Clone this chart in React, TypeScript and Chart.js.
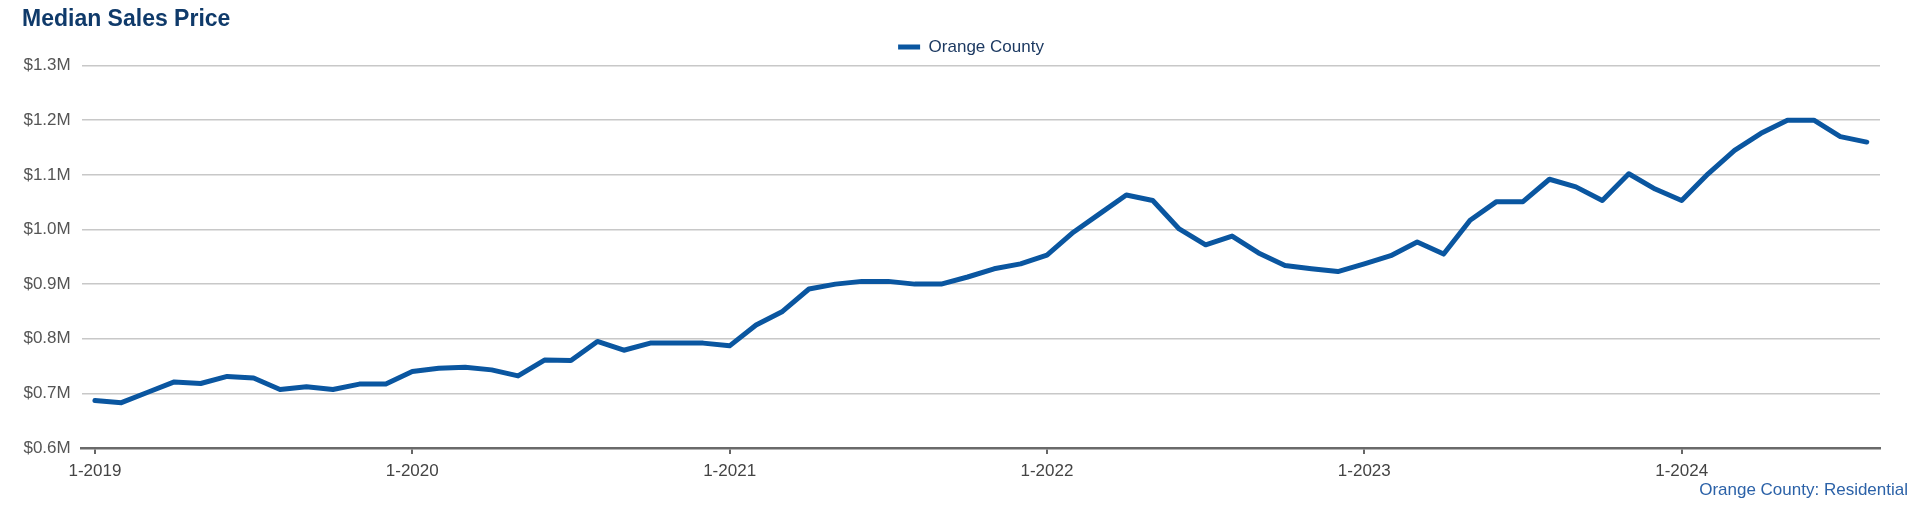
import React, { useEffect, useRef } from "react";
import { Chart, registerables } from "chart.js";

Chart.register(...registerables);

const monthLabels: string[] = [
  "1-2019", "2-2019", "3-2019", "4-2019", "5-2019", "6-2019", "7-2019", "8-2019", "9-2019", "10-2019", "11-2019", "12-2019",
  "1-2020", "2-2020", "3-2020", "4-2020", "5-2020", "6-2020", "7-2020", "8-2020", "9-2020", "10-2020", "11-2020", "12-2020",
  "1-2021", "2-2021", "3-2021", "4-2021", "5-2021", "6-2021", "7-2021", "8-2021", "9-2021", "10-2021", "11-2021", "12-2021",
  "1-2022", "2-2022", "3-2022", "4-2022", "5-2022", "6-2022", "7-2022", "8-2022", "9-2022", "10-2022", "11-2022", "12-2022",
  "1-2023", "2-2023", "3-2023", "4-2023", "5-2023", "6-2023", "7-2023", "8-2023", "9-2023", "10-2023", "11-2023", "12-2023",
  "1-2024", "2-2024", "3-2024", "4-2024", "5-2024", "6-2024", "7-2024", "8-2024",
];

const orangeCountyMedian: number[] = [
  687000, 683000, 702000, 721000, 718000, 731000, 728000, 707000, 712000, 707000, 717000, 717000,
  740000, 746000, 748000, 743000, 732000, 761000, 760000, 795000, 779000, 792000, 792000, 792000,
  787000, 825000, 850000, 891000, 900000, 905000, 905000, 900000, 900000, 913000, 928000, 937000,
  953000, 995000, 1029000, 1063000, 1053000, 1001000, 972000, 988000, 957000, 934000, 928000, 923000,
  937000, 952000, 977000, 955000, 1017000, 1051000, 1051000, 1092000, 1078000, 1053000, 1102000, 1074000,
  1053000, 1102000, 1145000, 1176000, 1200000, 1200000, 1170000, 1160000,
];

const seriesName = "Orange County";
const chartTitle = "Median Sales Price";
const captionText = "Orange County: Residential";
const yMin = 600000;
const yMax = 1300000;
const yStep = 100000;

const FONT = "'Liberation Sans', Arial, Helvetica, sans-serif";
const LINE_COLOR = "#0a56a0";

const captionPlugin = {
  id: "captionPlugin",
  afterDraw(chart: any) {
    const ctx = chart.ctx;
    ctx.save();
    ctx.font = `17px ${FONT}`;
    ctx.fillStyle = "#2c62a8";
    ctx.textAlign = "right";
    ctx.textBaseline = "middle";
    ctx.fillText(captionText, 1908, 490);
    ctx.restore();
  },
};

export default function App() {
  const canvasRef = useRef<HTMLCanvasElement | null>(null);

  useEffect(() => {
    if (!canvasRef.current) return;
    Chart.defaults.font.family = FONT;
    const chart = new Chart(canvasRef.current, {
      type: "line",
      data: {
        labels: monthLabels,
        datasets: [
          {
            label: seriesName,
            data: orangeCountyMedian,
            borderColor: LINE_COLOR,
            backgroundColor: LINE_COLOR,
            borderWidth: 5,
            pointRadius: 0,
            pointHoverRadius: 0,
            tension: 0,
            borderJoinStyle: "round",
            borderCapStyle: "round",
            fill: false,
          },
        ],
      },
      options: {
        animation: false,
        responsive: false,
        layout: { padding: { left: 22, right: 0, top: 0, bottom: 19.6 } },
        plugins: {
          title: {
            display: true,
            text: chartTitle,
            align: "start",
            color: "#0f3a6a",
            font: { size: 23, weight: "bold", family: FONT },
            padding: { top: 6, bottom: 0 },
          },
          legend: {
            display: true,
            position: "top",
            align: "center",
            labels: {
              color: "#1d3a62",
              font: { size: 17, family: FONT },
              boxWidth: 22,
              boxHeight: 5,
              padding: 5,
              generateLabels: () => [
                {
                  text: seriesName,
                  fillStyle: LINE_COLOR,
                  strokeStyle: LINE_COLOR,
                  lineWidth: 0,
                  hidden: false,
                  datasetIndex: 0,
                  fontColor: "#1d3a62",
                },
              ],
            },
          },
          tooltip: { enabled: false },
        },
        scales: {
          x: {
            type: "category",
            offset: true,
            grid: {
              display: true,
              drawOnChartArea: false,
              drawTicks: true,
              tickLength: 6,
              color: "#666666",
              lineWidth: 2,
              offset: false,
            },
            border: { display: true, color: "#6a6a6a", width: 2.5 },
            ticks: {
              autoSkip: false,
              maxRotation: 0,
              minRotation: 0,
              padding: 7,
              color: "#444444",
              font: { size: 17, family: FONT },
              callback: function (this: any, value: any) {
                const lbl = this.getLabelForValue(value) as string;
                return lbl.startsWith("1-") ? lbl : null;
              },
            },
          },
          y: {
            min: yMin,
            max: yMax,
            afterFit: (s: any) => {
              s.width = 59.7;
            },
            grid: {
              color: "#c8c8c8",
              lineWidth: 1.5,
              drawTicks: false,
            },
            border: { display: false },
            ticks: {
              stepSize: yStep,
              padding: 11,
              color: "#555555",
              font: { size: 17, family: FONT },
              callback: (v: any) => `$${(Number(v) / 1000000).toFixed(1)}M`,
            },
          },
          yRightSpace: {
            position: "right",
            display: true,
            min: 0,
            max: 1,
            afterFit: (s: any) => {
              s.width = 40;
            },
            grid: { display: false, drawTicks: false },
            border: { display: false },
            ticks: { display: false },
          },
        },
      },
      plugins: [captionPlugin],
    });
    return () => chart.destroy();
  }, []);

  return (
    <div style={{ position: "absolute", left: 0, top: 0, width: 1920, height: 508, background: "#ffffff" }}>
      <canvas ref={canvasRef} width={1920} height={508} style={{ display: "block" }} />
    </div>
  );
}
